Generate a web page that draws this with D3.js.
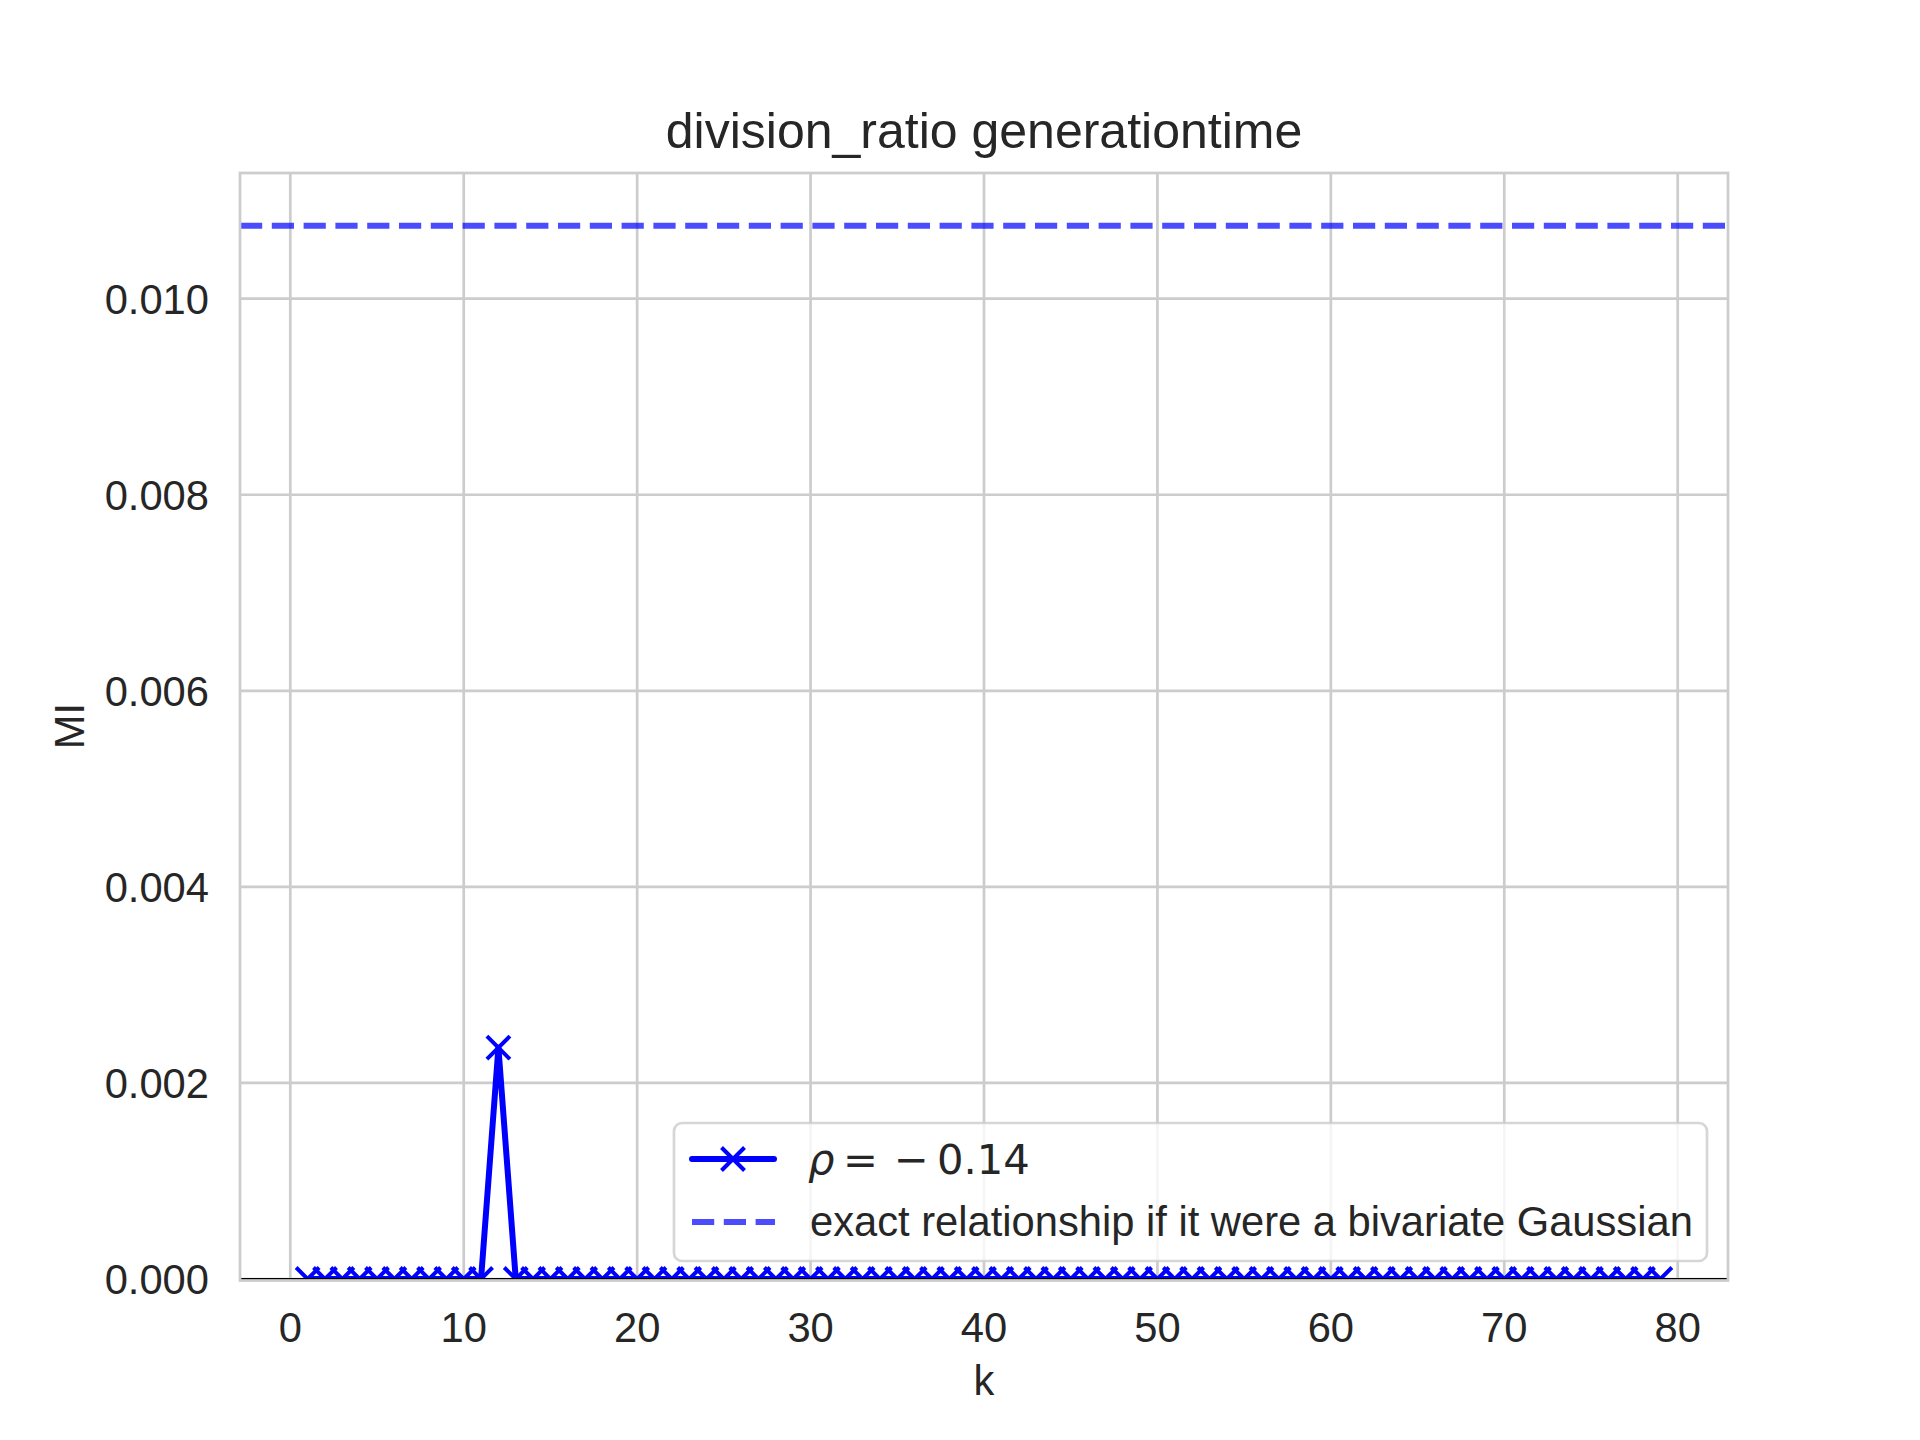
<!DOCTYPE html>
<html>

<head>
  <meta charset="UTF-8">
  <style>
    body { margin: 0; background: #fff; }
    text { fill: #262626; font-family: "Liberation Sans", Arial, sans-serif; }
  </style>
</head>

<body>
  <svg></svg>
  <script src="https://d3js.org/d3.v7.min.js"></script>

  <script>

    let width = 1920, height = 1440;

    // lag k and estimated mutual information at each lag
    const ks = [1, 2, 3, 4, 5, 6, 7, 8, 9, 10, 11, 12, 13, 14, 15, 16, 17, 18, 19, 20,
      21, 22, 23, 24, 25, 26, 27, 28, 29, 30, 31, 32, 33, 34, 35, 36, 37, 38, 39, 40,
      41, 42, 43, 44, 45, 46, 47, 48, 49, 50, 51, 52, 53, 54, 55, 56, 57, 58, 59, 60,
      61, 62, 63, 64, 65, 66, 67, 68, 69, 70, 71, 72, 73, 74, 75, 76, 77, 78, 79];
    const mi = [0, 0, 0, 0, 0, 0, 0, 0, 0, 0, 0, 0.00236, 0, 0, 0, 0, 0, 0, 0, 0,
      0, 0, 0, 0, 0, 0, 0, 0, 0, 0, 0, 0, 0, 0, 0, 0, 0, 0, 0, 0,
      0, 0, 0, 0, 0, 0, 0, 0, 0, 0, 0, 0, 0, 0, 0, 0, 0, 0, 0, 0,
      0, 0, 0, 0, 0, 0, 0, 0, 0, 0, 0, 0, 0, 0, 0, 0, 0, 0, 0];
    const gaussianMI = 0.010745;

    const xTicks = [0, 10, 20, 30, 40, 50, 60, 70, 80];
    const yTicks = [0, 0.002, 0.004, 0.006, 0.008, 0.010];

    const title = "division_ratio generationtime";
    const xLabel = "k";
    const yLabel = "MI";
    const legendLabels = ["exact relationship if it were a bivariate Gaussian"];

    const pLeft = 240, pRight = 1728, pTop = 173, pBottom = 1279;
    const fs = 41.7;

    let svg = d3.select("svg")
      .attr("width", width)
      .attr("height", height)
      .attr("viewBox", "0 0 " + width + " " + height);

    // matplotlib-like 5% margins
    let ext = d3.extent(ks);
    let pad = (ext[1] - ext[0]) * 0.05;
    let x = d3.scaleLinear().domain([ext[0] - pad, ext[1] + pad]).range([pLeft, pRight]);
    let y = d3.scaleLinear().domain([0, gaussianMI * 1.05]).range([pBottom, pTop]);

    svg.append("defs").append("clipPath").attr("id", "plot")
      .append("rect")
      .attr("x", pLeft).attr("y", pTop)
      .attr("width", pRight - pLeft).attr("height", pBottom - pTop);

    // grid
    let grid = svg.append("g").attr("stroke", "#cccccc").attr("stroke-width", 2.7);
    grid.selectAll(".gx").data(xTicks).enter().append("line")
      .attr("x1", d => x(d)).attr("x2", d => x(d))
      .attr("y1", pTop).attr("y2", pBottom);
    grid.selectAll(".gy").data(yTicks).enter().append("line")
      .attr("x1", pLeft).attr("x2", pRight)
      .attr("y1", d => y(d)).attr("y2", d => y(d));

    let plot = svg.append("g").attr("clip-path", "url(#plot)");

    // gaussian reference line
    plot.append("line")
      .attr("x1", pLeft).attr("x2", pRight)
      .attr("y1", y(gaussianMI)).attr("y2", y(gaussianMI))
      .attr("stroke", "#0000ff").attr("stroke-opacity", 0.7)
      .attr("stroke-width", 6)
      .attr("stroke-dasharray", "22.2,9.6");

    let pts = ks.map((k, i) => [k, mi[i]]);
    let line = d3.line().x(d => x(d[0])).y(d => y(d[1]));

    plot.append("path")
      .datum(pts)
      .attr("d", line)
      .attr("fill", "none")
      .attr("stroke", "#0000ff")
      .attr("stroke-width", 6)
      .attr("stroke-linejoin", "round");

    const cross = "M-11.5,-11.5L11.5,11.5M-11.5,11.5L11.5,-11.5";
    plot.selectAll(".mk").data(pts).enter().append("path")
      .attr("transform", d => "translate(" + x(d[0]) + "," + y(d[1]) + ")")
      .attr("d", cross)
      .attr("stroke", "#0000ff")
      .attr("stroke-width", 4)
      .attr("fill", "none");

    // horizontal black line at zero
    svg.append("line")
      .attr("x1", pLeft).attr("x2", pRight)
      .attr("y1", y(0)).attr("y2", y(0))
      .attr("stroke", "#000").attr("stroke-width", 2);

    // spines
    svg.append("rect")
      .attr("x", pLeft).attr("y", pTop)
      .attr("width", pRight - pLeft).attr("height", pBottom + 1.5 - pTop)
      .attr("fill", "none")
      .attr("stroke", "#cccccc").attr("stroke-width", 2.7);

    // tick labels
    svg.append("g").selectAll("text").data(xTicks).enter().append("text")
      .attr("x", d => x(d)).attr("y", 1342)
      .attr("text-anchor", "middle")
      .style("font-size", fs + "px")
      .text(d => d);

    svg.append("g").selectAll("text").data(yTicks).enter().append("text")
      .attr("x", pLeft - 31).attr("y", d => y(d))
      .attr("dy", "0.36em")
      .attr("text-anchor", "end")
      .style("font-size", fs + "px")
      .text(d => d3.format(".3f")(d));

    // labels and title
    svg.append("text")
      .attr("x", (pLeft + pRight) / 2).attr("y", 1395)
      .attr("text-anchor", "middle")
      .style("font-size", fs + "px")
      .text(xLabel);

    svg.append("text")
      .attr("transform", "translate(84," + (pTop + pBottom) / 2 + ") rotate(-90)")
      .attr("text-anchor", "middle")
      .style("font-size", fs + "px")
      .text(yLabel);

    svg.append("text")
      .attr("x", (pLeft + pRight) / 2).attr("y", 148)
      .attr("text-anchor", "middle")
      .style("font-size", "50px")
      .text(title);

    // legend
    let lg = svg.append("g");
    lg.append("rect")
      .attr("x", 674).attr("y", 1123)
      .attr("width", 1033).attr("height", 138)
      .attr("rx", 8)
      .attr("fill", "#fff").attr("fill-opacity", 0.8)
      .attr("stroke", "#cccccc").attr("stroke-opacity", 0.8)
      .attr("stroke-width", 2.7);

    lg.append("line")
      .attr("x1", 692).attr("x2", 774)
      .attr("y1", 1159).attr("y2", 1159)
      .attr("stroke", "#0000ff").attr("stroke-width", 6)
      .attr("stroke-linecap", "round");
    lg.append("path")
      .attr("transform", "translate(733,1159)")
      .attr("d", cross)
      .attr("stroke", "#0000ff").attr("stroke-width", 4)
      .attr("fill", "none");

    lg.append("line")
      .attr("x1", 692).attr("x2", 775)
      .attr("y1", 1222).attr("y2", 1222)
      .attr("stroke", "#0000ff").attr("stroke-opacity", 0.7)
      .attr("stroke-width", 6)
      .attr("stroke-dasharray", "22.2,9.6");

    let rho = lg.append("text")
      .attr("y", 1174)
      .style("font-family", "'DejaVu Sans', sans-serif")
      .style("font-size", fs + "px");
    rho.append("tspan").attr("x", 808).style("font-style", "italic").text("ρ");
    rho.append("tspan").attr("x", 843).text("=");
    rho.append("tspan").attr("x", 894).text("−");
    rho.append("tspan").attr("x", 937).text("0.14");

    lg.append("text")
      .attr("x", 810).attr("y", 1236)
      .style("font-size", fs + "px")
      .text(legendLabels[0]);

  </script>

</body>

</html>
